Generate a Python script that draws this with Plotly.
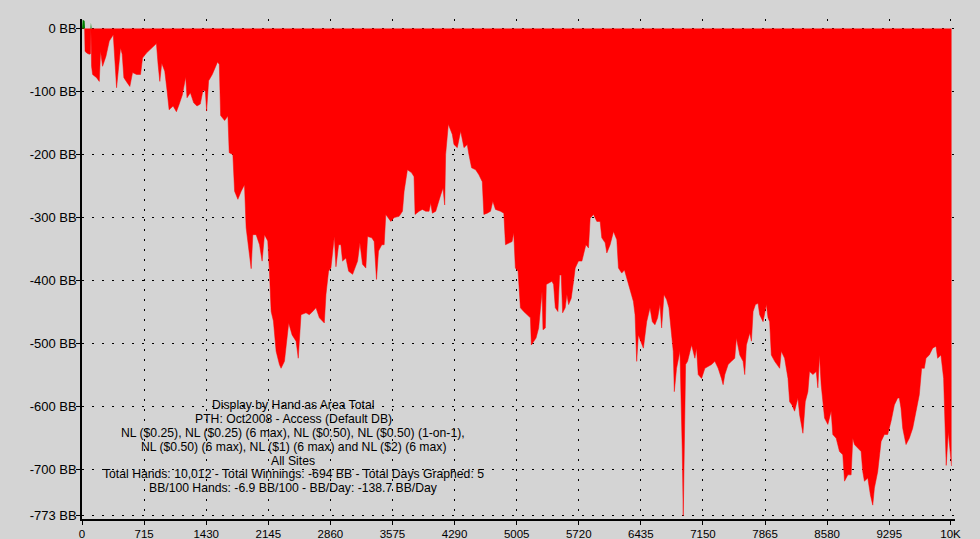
import plotly.graph_objects as go

# Cumulative winnings (BB) by hand number
hands = [0, 8, 30, 35, 54, 84, 98, 103, 110, 122, 168, 199, 214, 237, 276, 314, 360, 379, 398, 417,
         444, 463, 482, 520, 551, 582, 628, 674, 697, 742, 800, 857, 876, 896, 918, 953, 980, 1003,
         1049, 1087, 1117, 1156, 1194, 1209, 1248, 1286, 1324, 1362, 1393, 1420, 1435, 1458, 1500,
         1538, 1561, 1581, 1596, 1642, 1680, 1695, 1737, 1757, 1795, 1833, 1871, 1890, 1929, 1948,
         1967, 2005, 2044, 2074, 2101, 2139, 2158, 2178, 2204, 2235, 2273, 2292, 2331, 2358, 2380,
         2419, 2465, 2490,
         2522, 2579, 2617, 2656, 2694, 2733, 2790, 2809, 2839, 2866, 2905, 2924, 2955, 2981, 3000,
         3039, 3070, 3116, 3173, 3200, 3230, 3268, 3288, 3337, 3364, 3391, 3414, 3452, 3479, 3498,
         3529, 3556, 3594, 3651, 3690, 3709, 3747, 3796, 3823, 3835, 3881, 3919, 3958, 3996, 4015,
         4034, 4073, 4103, 4130, 4157, 4176, 4187, 4218, 4264, 4283, 4321, 4360, 4398, 4436, 4455,
         4486, 4532, 4570, 4609, 4627, 4666, 4704, 4730, 4761, 4819, 4857, 4876,
         4914, 4952, 4971, 4990, 5021, 5048, 5086, 5124, 5163, 5174, 5201, 5228, 5258, 5277, 5297,
         5308, 5335, 5346, 5373, 5411, 5430, 5450, 5480, 5499, 5518, 5534, 5564, 5583, 5603, 5633,
         5660, 5679, 5717, 5756, 5802, 5832, 5851, 5890, 5928, 5966, 5985, 6024, 6043, 6081, 6120,
         6158, 6177, 6215, 6246, 6272, 6311, 6349, 6368, 6387, 6406, 6437, 6464, 6502, 6540, 6567,
         6597, 6628, 6655, 6674, 6701, 6731, 6758, 6789, 6808, 6820, 6846, 6885, 6904, 6911, 6923,
         6934, 6950, 6973, 7000, 7019, 7057, 7076, 7095, 7134, 7172, 7210, 7249, 7287, 7325,
         7363, 7382, 7402, 7440, 7478, 7516, 7535, 7574, 7612, 7631, 7650, 7689, 7708, 7727, 7754,
         7784, 7803, 7842, 7880, 7899, 7918, 7937, 7976, 8014, 8033, 8052, 8090, 8129, 8148, 8175,
         8205, 8243, 8263, 8301, 8328, 8358, 8377, 8416, 8454, 8473, 8492, 8511, 8550, 8588, 8626,
         8645, 8684, 8722, 8760, 8780, 8818, 8856, 8875, 8894, 8933, 8971, 8990, 9009, 9048, 9078,
         9105, 9124, 9162, 9201, 9239, 9277, 9316, 9354, 9392, 9411, 9430, 9450, 9488, 9526, 9565,
         9603, 9641, 9668, 9699, 9718, 9756, 9795, 9833, 9852, 9890, 9921, 9940, 9951, 9975, 10012]

winnings_bb = [0, 14, 12, -36, -39, -41, -40, 9, -60, -73, -78, -84, -36, -60, -44, -20, -10, -52, -94, -68,
               -31, -41, -78, -86, -92, -70, -73, -73, -47, -39, -31, -24, -57, -84, -55, -68, -99, -129,
               -123, -132, -121, -105, -77, -110, -102, -118, -123, -120, -98, -99, -131, -83, -73,
               -60, -53, -57, -138, -146, -139, -197, -200, -258, -271, -258, -248, -316, -359, -381,
               -327, -327, -343, -369, -327, -337, -385, -449, -464, -512, -533, -539, -528, -491, -467,
               -486, -496, -523,
               -454, -451, -454, -449, -443, -459, -467, -422, -385, -380, -330, -378, -343, -343, -369,
               -364, -385, -390, -369, -340, -374, -380, -330, -332, -338, -398, -353, -343, -343, -295,
               -300, -306, -300, -298, -290, -258, -224, -229, -235, -295, -290, -287, -290, -290, -277,
               -293, -290, -274, -264, -253, -280, -200, -152, -168, -184, -189, -163, -189, -184, -200,
               -221, -224, -232, -243, -295, -293, -290, -274, -287, -290, -293, -343,
               -340, -338, -324, -380, -385, -443, -449, -454, -459, -502, -496, -491, -475, -443, -417,
               -478, -475, -406, -404, -401, -406, -443, -449, -391, -391, -451, -443, -422, -438, -428,
               -401, -380, -369, -369, -343, -348, -301, -295, -306, -306, -332, -340, -356, -343, -322,
               -335, -380, -388, -383, -396, -412, -433, -454, -528, -486, -496, -507, -465, -443, -465,
               -470, -459, -438, -475, -422, -430, -443, -486, -512, -576, -539, -512, -602, -666, -773,
               -666, -533, -528, -512, -502, -523, -507, -549, -555, -539, -536, -533, -528, -539,
               -555, -565, -549, -533, -528, -523, -491, -518, -528, -549, -502, -483, -496, -449, -438,
               -436, -454, -465, -438, -459, -465, -518, -528, -536, -539, -512, -523, -555, -592, -597,
               -607, -586, -613, -642, -592, -576, -544, -549, -544, -570, -518, -565, -618, -628, -607,
               -644, -650, -671, -676, -718, -708, -708, -650, -660, -666, -671, -703, -718, -713, -740,
               -756, -729, -703, -655, -644, -644, -623, -597, -586, -586, -602, -634, -660, -650, -634,
               -607, -581, -539, -539, -523, -518, -507, -504, -523, -518, -555, -634, -693, -640, -694]

x_tick_vals = [0, 715, 1430, 2145, 2860, 3575, 4290, 5005, 5720, 6435, 7150, 7865, 8580, 9295, 10000]
x_tick_text = ["0", "715", "1430", "2145", "2860", "3575", "4290", "5005", "5720", "6435", "7150",
               "7865", "8580", "9295", "10K"]
y_tick_vals = [0, -100, -200, -300, -400, -500, -600, -700, -773]
y_tick_text = ["0 BB", "-100 BB", "-200 BB", "-300 BB", "-400 BB", "-500 BB", "-600 BB", "-700 BB",
               "-773 BB"]

info_lines = [
    "Display by Hand as Area Total",
    "PTH: Oct2008 - Access (Default DB)",
    "NL ($0.25), NL ($0.25) (6 max), NL ($0.50), NL ($0.50) (1-on-1),",
    "NL ($0.50) (6 max), NL ($1) (6 max) and NL ($2) (6 max)",
    "All Sites",
    "Total Hands: 10,012 - Total Winnings: -694 BB - Total Days Graphed: 5",
    "BB/100 Hands: -6.9 BB/100 - BB/Day: -138.7 BB/Day",
]

neg_part = [min(v, 0) for v in winnings_bb]
pos_part = [max(v, 0) for v in winnings_bb]

BG = "#D4D4D4"
PLOT_TOP, PLOT_H = 19, 500          # plot area in pixels (layout only)
fig = go.Figure()
fig.add_trace(go.Scatter(x=hands, y=neg_part, mode="lines", fill="tozeroy",
                         fillcolor="#FF0000", line=dict(color="#FF0000", width=0.5),
                         hoverinfo="skip"))
fig.add_trace(go.Scatter(x=hands, y=pos_part, mode="none", fill="tozeroy",
                         fillcolor="#008000", hoverinfo="skip"))

# one annotation per text line, spaced like the reference
line_px = [405, 419, 433, 447, 460.5, 474, 487.5]
for txt, py in zip(info_lines, line_px):
    fig.add_annotation(xref="paper", yref="paper", x=(293 - 82) / 873,
                       y=(PLOT_TOP + PLOT_H - py) / PLOT_H,
                       xanchor="center", yanchor="middle", showarrow=False,
                       text=txt, align="center",
                       font=dict(family="Liberation Sans, Arial, sans-serif", size=12.2, color="black"))

fig.update_layout(
    width=980, height=539,
    margin=dict(l=82, r=25, t=PLOT_TOP, b=539 - PLOT_TOP - PLOT_H),
    paper_bgcolor=BG, plot_bgcolor=BG,
    showlegend=False,
    font=dict(family="Liberation Sans, Arial, sans-serif", color="black"),
)
fig.update_xaxes(range=[0, 10052], tickmode="array", tickvals=x_tick_vals, ticktext=x_tick_text,
                 showgrid=True, gridcolor="black", gridwidth=1, griddash="2px,8px",
                 showline=True, linecolor="black", linewidth=1.5, zeroline=False, automargin=False,
                 ticks="outside", ticklen=4, tickcolor="black", tickfont=dict(size=11.5),
                 ticklabelstandoff=-1)
fig.update_yaxes(range=[-778, 15], tickmode="array", tickvals=y_tick_vals, ticktext=y_tick_text,
                 showgrid=True, gridcolor="black", gridwidth=1, griddash="2px,8px",
                 showline=True, linecolor="black", linewidth=1.5, zeroline=False, automargin=False,
                 ticks="outside", ticklen=4, tickcolor="black", tickfont=dict(size=13),
                 ticklabelstandoff=-3)

page_js = ("document.body.style.margin='0';document.body.style.padding='0';"
           "document.body.style.overflow='hidden';"
           "document.body.style.background='" + BG + "';")
fig.write_html("out.html", post_script=page_js, config={"displayModeBar": False})
